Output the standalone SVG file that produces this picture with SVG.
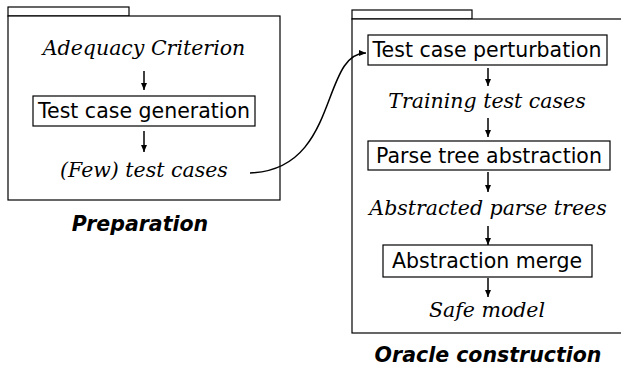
<svg xmlns="http://www.w3.org/2000/svg" width="621" height="366" viewBox="0 0 621 366">
<defs>
<marker id="ah" markerWidth="8" markerHeight="8" refX="7" refY="4" orient="auto" markerUnits="userSpaceOnUse">
<path d="M0,1 L7,4 L0,7 Z" fill="#000"/>
</marker>
<style>
.frame{fill:#fff;stroke:#000;stroke-width:1.2}
.box{fill:#fff;stroke:#000;stroke-width:1.2}
.it{font-family:"DejaVu Serif",serif;font-style:italic;font-size:20.5px;text-anchor:middle}
.bx{font-family:"DejaVu Sans",sans-serif;font-size:20.5px;text-anchor:middle}
.lbl{font-family:"DejaVu Sans",sans-serif;font-style:oblique;font-weight:bold;font-size:20.5px;text-anchor:middle}
.ar{stroke:#000;stroke-width:1.5;fill:none}
</style>
</defs>
<rect width="621" height="366" fill="#fff"/>
<g id="preparation">
<rect class="frame" x="8" y="7" width="121" height="9"/>
<rect class="frame" x="8" y="16" width="272" height="184"/>
<text class="lbl" x="140" y="231">Preparation</text>
</g>
<g id="oracle">
<rect class="frame" x="352" y="10" width="120" height="9"/>
<rect class="frame" x="352" y="19" width="272" height="314"/>
<text class="lbl" x="488" y="362">Oracle construction</text>
</g>
<g id="adequacy"><text class="it" x="144" y="55">Adequacy Criterion</text></g>
<g id="gen"><rect class="box" x="33" y="96" width="222" height="30"/><text class="bx" x="144" y="118">Test case generation</text></g>
<g id="few"><text class="it" x="144" y="177">(Few) test cases</text></g>
<g id="perturb"><rect class="box" x="368" y="35" width="239" height="30"/><text class="bx" x="487" y="57">Test case perturbation</text></g>
<g id="training"><text class="it" x="487" y="108">Training test cases</text></g>
<g id="pta"><rect class="box" x="368" y="141" width="242" height="29"/><text class="bx" x="489" y="163">Parse tree abstraction</text></g>
<g id="apt"><text class="it" x="488" y="215">Abstracted parse trees</text></g>
<g id="merge"><rect class="box" x="383" y="245" width="209" height="32"/><text class="bx" x="487" y="268">Abstraction merge</text></g>
<g id="safe"><text class="it" x="487" y="317">Safe model</text></g>
<g id="connectors">
<path class="ar" d="M144,71 L144,90" marker-end="url(#ah)"/>
<path class="ar" d="M144,131 L144,152" marker-end="url(#ah)"/>
<path class="ar" d="M488,68 L488,86" marker-end="url(#ah)"/>
<path class="ar" d="M488,118 L488,137" marker-end="url(#ah)"/>
<path class="ar" d="M488,172 L488,192" marker-end="url(#ah)"/>
<path class="ar" d="M488,226 L488,245" marker-end="url(#ah)"/>
<path class="ar" d="M488,278 L488,297" marker-end="url(#ah)"/>
<path class="ar" d="M250,173 C340,170 320,53 366,53" marker-end="url(#ah)"/>
</g>
</svg>
